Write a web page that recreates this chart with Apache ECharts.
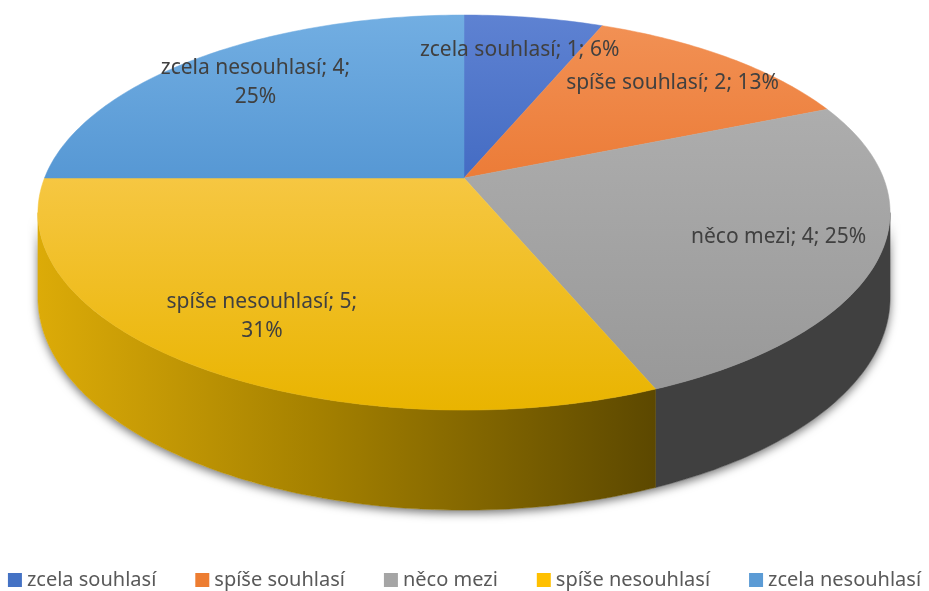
<!DOCTYPE html>
<html>
<head>
<meta charset="utf-8">
<script src="https://cdn.jsdelivr.net/npm/echarts@6/dist/echarts.min.js"></script>
<style>
  html, body { margin: 0; padding: 0; background: #fff; }
  #chart { width: 929px; height: 591px; }
</style>
</head>
<body>
<div id="chart"></div>
<script>
// data
var categories = ['zcela souhlasí', 'spíše souhlasí', 'něco mezi', 'spíše nesouhlasí', 'zcela nesouhlasí'];
var values = [1, 2, 4, 5, 4];

// office palette + shading of the top faces (light, dark)
var palette = ['#4472C4', '#ED7D31', '#A5A5A5', '#FFC000', '#5B9BD5'];
var topShade = [
    ['#5e82d2', '#1f4cae'],
    ['#f29256', '#e35c0c'],
    ['#b4b4b4', '#979797'],
    ['#ffd470', '#e9b400'],
    ['#72aee2', '#2f78c0']
];

// 3d pie geometry (perspective ellipse)
var CX = 464, CY = 178, RX = 419.5, RY = 191.5, K = 0.175, H = 82.5;
var WALL_FROM = Math.acos(-K) * 180 / Math.PI;
var WALL_TO = 360 - WALL_FROM;
var LABEL_FONT = '21px "Noto Sans"';
var LABEL_MAX_W = 225;

var total = values.reduce(function (s, v) { return s + v; }, 0);
var startAngles = [];
var acc = 0;
values.forEach(function (v) { startAngles.push(acc / total * 360); acc += v; });

function project(deg, r, drop) {
    var t = deg * Math.PI / 180;
    var u = Math.sin(t) * r, v = Math.cos(t) * r;
    var s = 1 / (1 + K * v);
    return [CX + RX * u * s, CY - RY * v * s + (drop || 0) * s];
}

function arc(a0, a1, drop) {
    var pts = [];
    var n = Math.max(2, Math.ceil(Math.abs(a1 - a0)));
    for (var j = 0; j <= n; j++) {
        pts.push(project(a0 + (a1 - a0) * j / n, 1, drop));
    }
    return pts;
}

function topPoints(a0, a1) {
    return [[CX, CY]].concat(arc(a0, a1, 0));
}

function wallPoints(a0, a1) {
    return arc(a0, a1, 0).concat(arc(a1, a0, H));
}

var measureCtx = document.createElement('canvas').getContext('2d');
measureCtx.font = LABEL_FONT;

// "name; value; pct%" - wrapped before the percentage when too wide (like excel)
function labelText(i) {
    var pct = Math.round(values[i] / total * 100);
    var head = categories[i] + '; ' + values[i] + ';';
    var full = head + ' ' + pct + '%';
    if (measureCtx.measureText(full).width > LABEL_MAX_W) return head + '\n' + pct + '%';
    return full;
}

function wallFill(i) {
    if (i === 3) {
        return new echarts.graphic.LinearGradient(38, 0, 656, 0, [
            { offset: 0, color: '#dcab08' },
            { offset: 0.45, color: '#a58100' },
            { offset: 1, color: '#5c4800' }
        ], true);
    }
    if (i === 2) return '#404040';
    return new echarts.graphic.LinearGradient(0, 0, 929, 0, [
        { offset: 0, color: palette[i] },
        { offset: 1, color: '#333' }
    ], true);
}

function topFill(i) {
    return new echarts.graphic.LinearGradient(0, 15, 0, 410, [
        { offset: 0, color: topShade[i][0] },
        { offset: 1, color: topShade[i][1] }
    ], true);
}

var myChart = echarts.init(document.getElementById('chart'));

var option = {
    animation: false,
    legend: {
        left: 'center',
        top: 570,
        padding: 0,
        icon: 'rect',
        itemWidth: 14,
        itemHeight: 14,
        itemGap: 39,
        selectedMode: false,
        textStyle: { fontFamily: 'Noto Sans', fontSize: 20, color: '#595959' },
        data: categories
    },
    series: [
        {
            // only feeds the legend
            type: 'pie',
            radius: 0,
            silent: true,
            label: { show: false },
            labelLine: { show: false },
            data: categories.map(function (c, i) {
                return { name: c, value: values[i], itemStyle: { color: palette[i] } };
            })
        },
        {
            type: 'custom',
            coordinateSystem: 'none',
            silent: true,
            data: values,
            renderItem: function (params, api) {
                var i = params.dataIndex;
                var a0 = startAngles[i];
                var a1 = a0 + api.value(0) / total * 360;
                var children = [];
                if (i === 0) {
                    children.push({
                        type: 'polygon', z2: 0,
                        shape: { points: wallPoints(WALL_FROM, WALL_TO) },
                        style: { fill: '#fff', shadowBlur: 10, shadowColor: 'rgba(0,0,0,0.55)', shadowOffsetY: 3 }
                    });
                }
                var w0 = Math.max(a0, WALL_FROM), w1 = Math.min(a1, WALL_TO);
                if (w1 > w0) {
                    var wf = wallFill(i);
                    children.push({
                        type: 'polygon', z2: 1,
                        shape: { points: wallPoints(w0, w1) },
                        style: { fill: wf, stroke: wf, lineWidth: 0.5 }
                    });
                }
                var tf = topFill(i);
                children.push({
                    type: 'polygon', z2: 2,
                    shape: { points: topPoints(a0, a1) },
                    style: { fill: tf, stroke: tf, lineWidth: 0.5 }
                });
                var mid = (a0 + a1) / 2;
                var p = project(mid, 0.77, 0);
                children.push({
                    type: 'text', z2: 3,
                    x: p[0], y: p[1],
                    style: {
                        text: labelText(i),
                        fill: '#404040',
                        font: LABEL_FONT,
                        lineHeight: 29,
                        align: 'center',
                        verticalAlign: 'middle',
                        textAlign: 'center',
                        textVerticalAlign: 'middle'
                    }
                });
                return { type: 'group', children: children };
            }
        }
    ]
};

myChart.setOption(option);
</script>
</body>
</html>
